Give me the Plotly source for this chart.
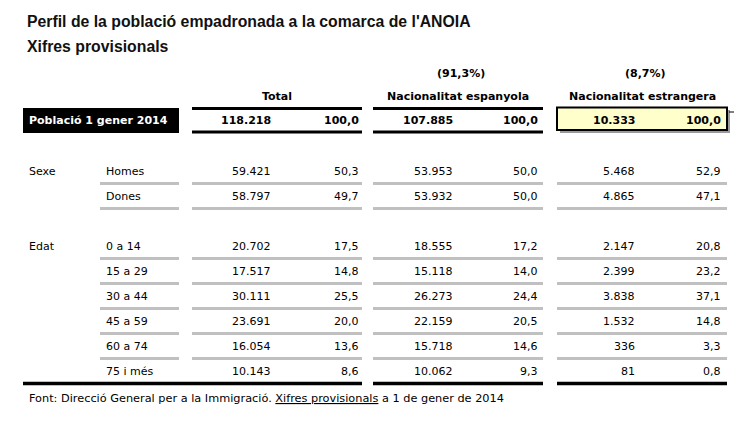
import plotly.graph_objects as go

# ---------------- data ----------------
title_lines = ["Perfil de la població empadronada a la comarca de l'ANOIA", "Xifres provisionals"]
col_headers = ["Total", "Nacionalitat espanyola", "Nacionalitat estrangera"]
col_share = [None, 91.3, 8.7]
pop_label = "Població 1 gener 2014"
pop_total = [118218, 107885, 10333]
pop_pct = [100.0, 100.0, 100.0]

groups = ["Sexe", "Edat"]
row_labels = ["Homes", "Dones", "0 a 14", "15 a 29", "30 a 44", "45 a 59", "60 a 74", "75 i més"]
row_group = ["Sexe", "Sexe", "Edat", "Edat", "Edat", "Edat", "Edat", "Edat"]
total_n = [59421, 58797, 20702, 17517, 30111, 23691, 16054, 10143]
total_pct = [50.3, 49.7, 17.5, 14.8, 25.5, 20.0, 13.6, 8.6]
esp_n = [53953, 53932, 18555, 15118, 26273, 22159, 15718, 10062]
esp_pct = [50.0, 50.0, 17.2, 14.0, 24.4, 20.5, 14.6, 9.3]
est_n = [5468, 4865, 2147, 2399, 3838, 1532, 336, 81]
est_pct = [52.9, 47.1, 20.8, 23.2, 37.1, 14.8, 3.3, 0.8]
footnote = "Font: Direcció General per a la Immigració. <u>Xifres provisionals</u> a 1 de gener de 2014"

# ---------------- layout constants ----------------
W, H = 734, 426
TFONT = "DejaVu Sans, Verdana, sans-serif"
FS = 11
cols = [(192, 362), (373, 543), (557, 727)]      # column spans
num_right = [273, 455, 637]                      # right edge of counts
pct_right = [361, 540, 723]                      # right edge of percentages
label_span = (100, 179)
grp_x, lab_x = 27, 104
row0_y, row_h = 171, 25


def fmt_int(v):
    return f"{v:,}".replace(",", ".")


def fmt_dec(v):
    return f"{v:.1f}".replace(".", ",")


fig = go.Figure()
fig.add_trace(go.Scatter(x=[0], y=[0], mode="markers", marker=dict(opacity=0), hoverinfo="skip", showlegend=False))

ann = []
shapes = []


def text(x, y, s, anchor="left", bold=False, size=FS, color="#000", family=TFONT):
    ann.append(dict(x=x, y=y, xref="x", yref="y", text=(f"<b>{s}</b>" if bold else s),
                    showarrow=False, xanchor=anchor, yanchor="middle",
                    font=dict(family=family, size=size, color=color)))


def hline(x0, x1, y, w, color):
    shapes.append(dict(type="line", xref="x", yref="y", x0=x0, x1=x1, y0=y, y1=y,
                       line=dict(color=color, width=w)))


# titles
TITLE_FONT = "Liberation Sans, Arial, sans-serif"
text(25, 21, title_lines[0], bold=True, size=15.8, color="#111", family=TITLE_FONT)
text(25, 46, title_lines[1], bold=True, size=15.8, color="#111", family=TITLE_FONT)

# headers
for i, (x0, x1) in enumerate(cols):
    cx = (x0 + x1) / 2
    if col_share[i] is not None:
        text(cx + 3, 73, f"({fmt_dec(col_share[i])}%)", anchor="center", bold=True)
    text(cx, 96, col_headers[i], anchor="center", bold=True)

# population row
shapes.append(dict(type="rect", xref="x", yref="y", x0=23, x1=179, y0=108, y1=133,
                   fillcolor="#000", line=dict(width=0)))
text(27, 120.5, pop_label, bold=True, color="#fff")
for i, (x0, x1) in enumerate(cols):
    if i < 2:
        hline(x0, x1, 108.5, 3, "#000")
        hline(x0, x1, 132, 3, "#000")
    else:
        shapes.append(dict(type="rect", xref="x", yref="y", x0=x0 + 3, x1=x1 + 3, y0=110, y1=133,
                           fillcolor="#9a9a9a", line=dict(width=0)))
        shapes.append(dict(type="rect", xref="x", yref="y", x0=x0, x1=x1, y0=107.5, y1=130,
                           fillcolor="#ffffcc", line=dict(color="#000", width=2)))
        hline(729, 734, 112, 1, "#000")
    text(num_right[i], 120, fmt_int(pop_total[i]), anchor="right", bold=True)
    text(pct_right[i], 120, fmt_dec(pop_pct[i]), anchor="right", bold=True)

# body rows
slot = 0
prev_group = None
n = len(row_labels)
for r in range(n):
    if prev_group is not None and row_group[r] != prev_group:
        slot += 1
    y = row0_y + slot * row_h
    if row_group[r] != prev_group:
        text(grp_x, y, row_group[r])
    prev_group = row_group[r]
    text(lab_x, y, row_labels[r])
    vals = [(total_n[r], total_pct[r]), (esp_n[r], esp_pct[r]), (est_n[r], est_pct[r])]
    for i, (nv, pv) in enumerate(vals):
        text(num_right[i], y, fmt_int(nv), anchor="right")
        text(pct_right[i], y, fmt_dec(pv), anchor="right")
    ly = y + 12.5
    if r < n - 1:
        hline(label_span[0], label_span[1], ly, 3, "#c0c0c0")
        for x0, x1 in cols:
            hline(x0, x1, ly, 3, "#c0c0c0")
    else:
        hline(23, cols[0][1], ly, 3.5, "#000")
        for x0, x1 in cols[1:]:
            hline(x0, x1, ly, 3.5, "#000")
    slot += 1

# footnote
text(27, 398, footnote, size=11.3)

fig.update_layout(
    width=W, height=H, margin=dict(l=0, r=0, t=0, b=0),
    paper_bgcolor="#fff", plot_bgcolor="#fff",
    xaxis=dict(range=[0, W], visible=False, fixedrange=True),
    yaxis=dict(range=[H, 0], visible=False, fixedrange=True),
    annotations=ann, shapes=shapes, showlegend=False,
)
fig.write_html("out.html", config={"displayModeBar": False},
               post_script="document.body.style.margin='0px';document.body.style.overflow='hidden';")
